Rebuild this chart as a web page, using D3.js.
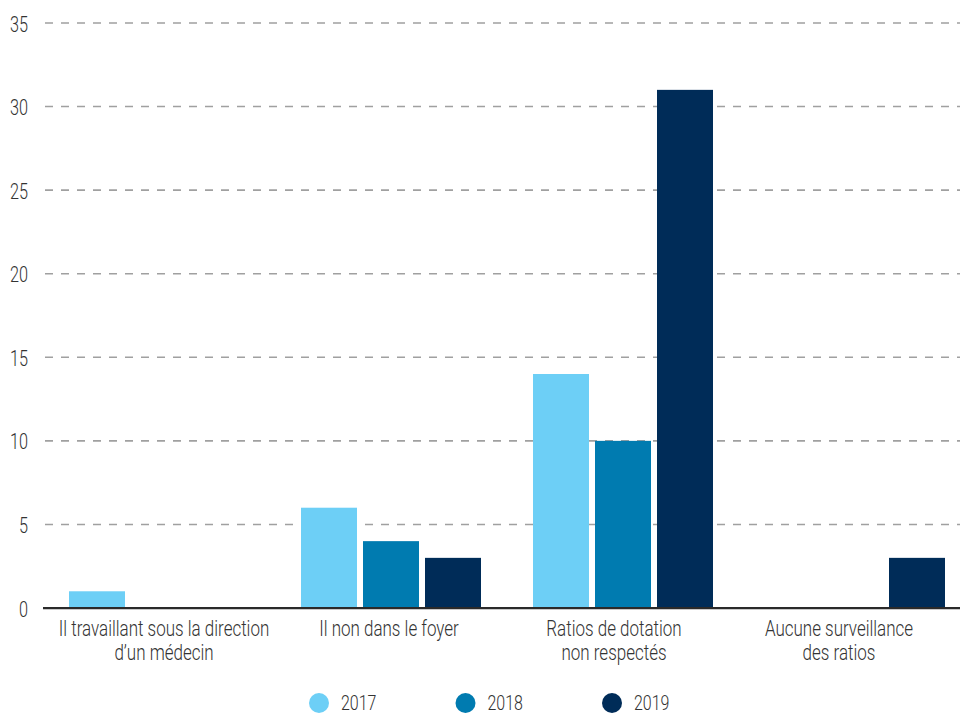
<!DOCTYPE html>
<html>
<head>
<meta charset="utf-8">
<script src="https://cdn.jsdelivr.net/npm/d3@7"></script>
<style>
  body { margin: 0; background: #fff; }
  svg text { font-family: Roboto, "Liberation Sans", sans-serif; fill: #333; }
</style>
</head>
<body>
<svg id="chart" width="960" height="714"></svg>
<script>
const categories = [
  ["Il travaillant sous la direction", "d\u2019un médecin"],
  ["Il non dans le foyer"],
  ["Ratios de dotation", "non respectés"],
  ["Aucune surveillance", "des ratios"]
];
const years = ["2017", "2018", "2019"];
const values2017 = [1, 6, 14, 0];
const values2018 = [0, 4, 10, 0];
const values2019 = [0, 3, 31, 3];
const yTicks = [0, 5, 10, 15, 20, 25, 30, 35];
const colors = ["#6dcff6", "#007bb0", "#002c58"];

const series = [values2017, values2018, values2019];
const svg = d3.select("#chart");

// condensed look: squeeze text horizontally
const DIGIT_SQUEEZE = 0.74;
const LABEL_SQUEEZE = 0.79;

const x0 = d3.scaleBand().domain(d3.range(categories.length)).range([43, 971]).padding(0);
const x1 = d3.scaleBand().domain(years).range([26, 206]).paddingInner(6 / 62).paddingOuter(0);
// category labels sit on their own, slightly tighter spacing
const xLabel = d3.scalePoint().domain(d3.range(categories.length)).range([164, 839]);
const y = d3.scaleLinear().domain([0, 35]).range([608, 23]);
const color = d3.scaleOrdinal().domain(years).range(colors);

// grid lines
svg.append("g").selectAll("line").data(yTicks.filter(d => d > 0)).join("line")
  .attr("x1", 45).attr("x2", 960)
  .attr("y1", d => y(d)).attr("y2", d => y(d))
  .attr("stroke", "#a0a0a0").attr("stroke-width", 1.6)
  .attr("stroke-dasharray", "8,8");

// y axis labels
const yAxis = d3.axisLeft(y).tickValues(yTicks).tickSize(0).tickPadding(0);
const yg = svg.append("g").attr("transform", "translate(28,0)").call(yAxis);
yg.select(".domain").remove();
yg.selectAll(".tick text")
  .attr("x", 0).attr("dy", null).attr("y", 8)
  .attr("font-size", 22).attr("fill", "#333").attr("font-weight", 300)
  .style("font-family", "Roboto, sans-serif")
  .attr("transform", `scale(${DIGIT_SQUEEZE},1)`);

// bars
const groups = svg.append("g").selectAll("g").data(categories).join("g")
  .attr("transform", (d, i) => `translate(${x0(i)},0)`);
groups.selectAll("rect").data((d, i) => years.map((yr, k) => ({ yr, v: series[k][i] }))).join("rect")
  .attr("x", d => x1(d.yr))
  .attr("width", x1.bandwidth())
  .attr("y", d => y(d.v))
  .attr("height", d => y(0) - y(d.v))
  .attr("fill", d => color(d.yr));

// baseline
svg.append("line").attr("x1", 43).attr("x2", 960).attr("y1", y(0) + 1.5).attr("y2", y(0) + 1.5)
  .attr("stroke", "#c8c8c8").attr("stroke-width", 1);
svg.append("line").attr("x1", 43).attr("x2", 960).attr("y1", y(0)).attr("y2", y(0))
  .attr("stroke", "#2a2a2a").attr("stroke-width", 2.2);

// category labels
const xg = svg.append("g");
categories.forEach((lines, i) => {
  const cx = xLabel(i);
  lines.forEach((ln, j) => {
    xg.append("text")
      .attr("transform", `translate(${cx},${636 + j * 24}) scale(${LABEL_SQUEEZE},1)`)
      .attr("text-anchor", "middle")
      .attr("font-size", 21.5).attr("font-weight", 300)
      .text(ln);
  });
});

// legend
const legendX = d3.scalePoint().domain(years).range([319, 612]);
const lg = svg.append("g").selectAll("g").data(years).join("g")
  .attr("transform", d => `translate(${legendX(d)},703)`);
lg.append("circle").attr("r", 10).attr("fill", d => color(d));
lg.append("text")
  .attr("transform", `translate(22,7) scale(${DIGIT_SQUEEZE + 0.04},1)`)
  .attr("font-size", 20.5).attr("font-weight", 300).text(d => d);
</script>
</body>
</html>
